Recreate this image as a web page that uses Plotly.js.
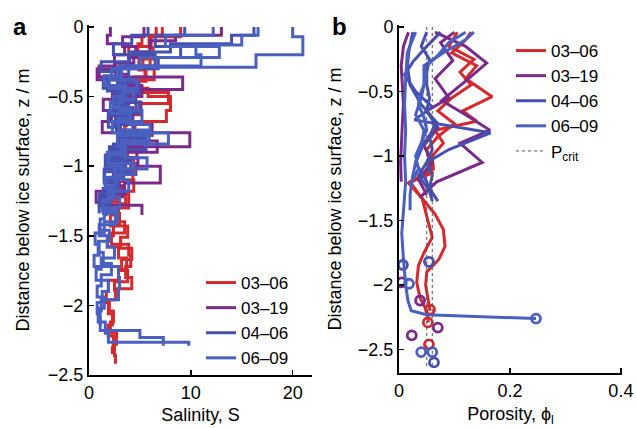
<!DOCTYPE html>
<html><head><meta charset="utf-8">
<script src="https://cdn.plot.ly/plotly-3.0.1.min.js"></script>
<style>html,body{margin:0;padding:0;background:#fff}#chart{width:636px;height:428px}</style>
</head><body><div id="chart"></div>
<script>
// ---------- Panel a: salinity step profiles (depth boundaries in m, salinity per interval) ----------
const seriesNames = ['03\u201306', '03\u201319', '04\u201306', '06\u201309'];
const seriesColors = ['#d42a2e', '#7b2a8a', '#4550b0', '#4a60c0'];

// 03-06
const salR1Depth = [0,-0.06,-0.12,-0.2,-0.28,-0.36,-0.44,-0.5,-0.6,-0.68,-0.76,-0.86,-0.94,-1.02,-1.1,-1.2,-1.3,-1.4,-1.48,-1.56,-1.64,-1.72,-1.8,-1.88,-1.96,-2.04,-2.12,-2.2,-2.28,-2.36,-2.42];
const salR1 = [6.6,5.2,4.8,6.0,5.5,4.6,5.8,8.0,7.6,4.5,5.2,3.8,4.4,3.4,3.0,3.9,2.8,3.5,2.2,3.9,4.1,3.6,4.2,2.6,2.0,2.4,2.1,2.7,2.5,2.6];
const salR2Depth = [0,-0.06,-0.14,-0.22,-0.3,-0.38,-0.46,-0.54,-0.62,-0.7,-0.78,-0.86,-0.94,-1.02,-1.1,-1.18,-1.26,-1.34,-1.42,-1.5,-1.58,-1.66,-1.74,-1.82,-1.9,-1.98,-2.06,-2.14,-2.22,-2.3,-2.35];
const salR2 = [7.2,6.1,3.9,5.3,6.4,4.2,3.6,4.9,3.3,4.5,5.1,3.5,2.6,3.2,4.4,2.7,2.2,3.0,2.4,1.8,2.9,3.7,2.9,1.9,1.7,1.9,2.3,1.9,2.4,2.3];
const salR3Depth = [0,-0.07,-0.15,-0.23,-0.31,-0.39,-0.47,-0.55,-0.63,-0.71,-0.79,-0.87,-0.95,-1.03,-1.11,-1.19,-1.27,-1.35,-1.43,-1.51,-1.59,-1.67,-1.75,-1.83,-1.9];
const salR3 = [9.0,5.9,6.3,4.9,5.6,4.4,7.8,5.0,3.7,3.5,4.0,2.9,3.3,4.3,2.5,3.6,2.9,2.1,3.8,3.1,4.2,3.2,3.8,2.5];
// 03-19
const salP1Depth = [0,-0.06,-0.12,-0.2,-0.28,-0.36,-0.45,-0.52,-0.6,-0.68,-0.76,-0.86,-0.94,-1.0,-1.12,-1.2,-1.28,-1.35];
const salP1 = [2.1,1.8,3.5,2.5,1.0,9.2,3.1,1.4,2.2,1.3,9.9,2.8,4.8,7.0,3.5,1.2,5.2];
const salP2Depth = [0,-0.07,-0.14,-0.22,-0.3,-0.38,-0.46,-0.54,-0.62,-0.7,-0.78,-0.86,-0.94,-1.02,-1.1,-1.18,-1.26,-1.33];
const salP2 = [5.4,3.3,4.6,3.9,0.8,3.4,2.3,5.1,4.0,6.2,3.6,4.7,2.1,3.0,1.6,0.7,1.9];
const salP3Depth = [0,-0.06,-0.1,-0.18,-0.26,-0.34,-0.42,-0.5,-0.58,-0.66,-0.74,-0.82,-0.9,-0.98,-1.06,-1.14,-1.22,-1.3];
const salP3 = [13.0,8.5,6.0,4.4,2.6,3.8,5.2,3.0,4.3,2.7,3.9,6.7,3.1,4.6,2.4,3.3,1.3];
// 04-06
const salB4Depth = [0,-0.06,-0.12,-0.18,-0.25,-0.32,-0.4,-0.48,-0.56,-0.64,-0.72,-0.8,-0.88,-0.96,-1.04,-1.12,-1.2,-1.28,-1.36];
const salB4 = [16.2,14.0,8.0,4.0,1.2,2.8,4.9,2.6,3.9,1.9,3.1,5.6,2.2,4.1,1.5,2.6,1.0,1.7];
const salB5Depth = [0,-0.06,-0.14,-0.22,-0.3,-0.38,-0.46,-0.54,-0.62,-0.7,-0.78,-0.86,-0.94,-1.02,-1.1,-1.18,-1.26,-1.34];
const salB5 = [9.4,6.5,9.0,6.8,3.9,1.8,3.4,5.0,2.6,4.3,3.0,2.0,3.6,1.5,2.9,1.8,1.0];
const salB6Depth = [0,-0.06,-0.12,-0.2,-0.28,-0.36,-0.44,-0.52,-0.6,-0.68,-0.76,-0.84,-0.92,-1.0,-1.08,-1.16,-1.24,-1.32];
const salB6 = [5.8,4.2,2.4,6.5,3.0,1.4,2.6,4.6,1.9,2.9,5.2,2.4,1.6,3.4,2.3,1.4,2.1];
// 06-09
const salB1Depth = [0,-0.07,-0.2,-0.29,-0.35,-0.42,-0.5,-0.58,-0.66,-0.74,-0.82,-0.9,-0.98,-1.06,-1.14,-1.22,-1.3,-1.38,-1.46,-1.54,-1.62,-1.7,-1.78,-1.86,-1.94,-2.02,-2.1,-2.18,-2.23,-2.29];
const salB1 = [20.0,21.0,16.4,2.8,1.5,3.6,2.4,4.1,2.9,5.9,3.2,1.8,4.5,2.6,1.9,3.0,1.5,1.1,2.0,0.9,1.4,2.2,1.2,0.8,1.5,1.0,1.1,5.0,7.3];
const salB2Depth = [0,-0.06,-0.13,-0.2,-0.28,-0.36,-0.44,-0.52,-0.6,-0.68,-0.76,-0.84,-0.92,-1.0,-1.08,-1.16,-1.24,-1.32,-1.4,-1.48,-1.56,-1.64,-1.72,-1.8,-1.88,-1.96,-2.04,-2.12,-2.2,-2.265,-2.29];
const salB2 = [16.6,15.0,10.5,11.0,3.2,2.0,4.4,3.0,5.2,2.3,7.8,3.5,2.0,3.2,1.6,2.4,1.3,2.8,1.5,0.6,1.0,0.5,2.9,3.0,2.9,1.2,0.9,1.6,1.9,9.8];
const salB3Depth = [0,-0.06,-0.14,-0.22,-0.3,-0.38,-0.46,-0.54,-0.62,-0.7,-0.78,-0.86,-0.94,-1.02,-1.1,-1.18,-1.26,-1.34,-1.42,-1.5,-1.58,-1.66,-1.74,-1.82,-1.9,-1.98,-2.06,-2.14];
const salB3 = [12.2,7.5,12.8,5.0,2.2,4.7,3.3,2.1,4.0,6.0,2.8,3.6,5.7,2.5,3.9,2.0,1.4,2.6,1.0,1.8,2.5,1.2,0.7,1.9,1.3,0.8,1.1];

// ---------- Panel b: porosity profiles ----------
// 03-06
const porR1Depth = [-0.04,-0.1,-0.2,-0.3,-0.4,-0.54,-0.65,-0.73,-0.8,-0.9,-1.0,-1.1,-1.2,-1.32,-1.45,-1.57,-1.7,-1.8,-1.9,-2.0,-2.1,-2.2];
const porR1 = [0.13,0.12,0.095,0.14,0.12,0.168,0.115,0.14,0.065,0.08,0.06,0.062,0.02,0.04,0.065,0.08,0.083,0.072,0.05,0.048,0.052,0.056];
const porR2Depth = [-0.04,-0.15,-0.25,-0.35,-0.45,-0.55,-0.65,-0.75,-0.85,-0.95,-1.05,-1.13,-1.21,-1.33,-1.5,-1.63,-1.75,-1.85,-1.98,-2.1,-2.2,-2.29];
const porR2 = [0.105,0.09,0.135,0.11,0.13,0.095,0.07,0.1,0.07,0.05,0.055,0.06,0.017,0.042,0.052,0.06,0.045,0.035,0.032,0.038,0.05,0.053];
const porRCircDepth = [-2.19,-2.29,-2.46];
const porRCirc = [0.056,0.052,0.054];
// 03-19
const porP1Depth = [-0.04,-0.15,-0.3,-0.45,-0.6,-0.75,-0.9,-1.05,-1.2];
const porP1 = [0.017,0.008,0.004,0.006,0.008,0.006,0.004,0.003,0.004];
const porP2Depth = [-0.04,-0.15,-0.28,-0.42,-0.57,-0.68,-0.8,-0.9,-1.05,-1.2,-1.32];
const porP2 = [0.065,0.12,0.158,0.12,0.077,0.12,0.164,0.11,0.15,0.068,0.038];
const porP3Depth = [-0.04,-0.12,-0.26,-0.4,-0.55,-0.65,-0.78,-0.92,-1.05,-1.18,-1.3];
const porP3 = [0.1,0.075,0.097,0.065,0.09,0.05,0.07,0.045,0.06,0.035,0.05];
const porPCircDepth = [-1.98,-2.12,-2.33,-2.39];
const porPCirc = [0.005,0.038,0.07,0.023];
// 04-06
const porB4Depth = [-0.04,-0.15,-0.25,-0.35,-0.45,-0.55,-0.65,-0.75,-0.85,-0.95,-1.05,-1.15,-1.25,-1.35];
const porB4 = [0.05,0.04,0.055,0.05,0.05,0.055,0.05,0.065,0.055,0.06,0.05,0.06,0.055,0.07];
const porB5Depth = [-0.04,-0.15,-0.27,-0.37,-0.5,-0.62,-0.72,-0.82,-0.95,-1.05,-1.15,-1.3];
const porB5 = [0.075,0.05,0.025,0.01,0.03,0.06,0.028,0.165,0.09,0.05,0.035,0.06];
const porB6Depth = [-0.04,-0.18,-0.3,-0.45,-0.6,-0.75,-0.9,-1.05,-1.2,-1.35];
const porB6 = [0.025,0.018,0.015,0.02,0.04,0.07,0.045,0.03,0.05,0.06];
const porB4CircDepth = [-1.845,-1.82,-2.6];
const porB4Circ = [0.007,0.054,0.063];
// 06-09
const porB1Depth = [-0.04,-0.2,-0.4,-0.6,-0.8,-1.0,-1.2,-1.4,-1.6,-1.8,-2.0,-2.12,-2.2,-2.23,-2.26];
const porB1 = [0.03,0.015,0.012,0.01,0.012,0.01,0.012,0.008,0.005,0.008,0.012,0.016,0.022,0.05,0.247];
const porB2Depth = [-0.04,-0.12,-0.22,-0.32,-0.45,-0.55,-0.68,-0.8,-0.92,-1.05,-1.15,-1.3,-1.42];
const porB2 = [0.12,0.09,0.07,0.045,0.045,0.04,0.03,0.045,0.04,0.03,0.025,0.02,0.02];
const porB3Depth = [-0.04,-0.1,-0.2,-0.3,-0.4,-0.5,-0.6,-0.7,-0.8,-0.9,-1.0,-1.1,-1.22];
const porB3 = [0.135,0.12,0.08,0.045,0.05,0.04,0.035,0.045,0.05,0.04,0.03,0.035,0.02];
const porB1CircDepth = [-2.26,-1.99,-2.52,-2.52];
const porB1Circ = [0.247,0.018,0.04,0.06];

// critical porosity band (dotted lines)
const pcritValues = [0.05, 0.06];
const pcritDepth = [0, -2.65];

// ---------- build traces ----------
const FONT = 'Liberation Sans, Arial, Helvetica, sans-serif';
const LW = 3;
const traces = [];
function stairs(depth, vals, s, first) {
  traces.push({
    type: 'scatter', mode: 'lines', xaxis: 'x', yaxis: 'y',
    x: vals.concat([vals[vals.length - 1]]), y: depth,
    line: {color: seriesColors[s], width: LW, shape: 'vh'},
    name: seriesNames[s], legend: 'legend',
    showlegend: first, hoverinfo: 'skip'
  });
}
function prof(depth, vals, s, first) {
  traces.push({
    type: 'scatter', mode: 'lines', xaxis: 'x2', yaxis: 'y2',
    x: vals, y: depth,
    line: {color: seriesColors[s], width: LW},
    name: seriesNames[s], legend: 'legend2',
    showlegend: first, hoverinfo: 'skip'
  });
}
function circ(depth, vals, s) {
  traces.push({
    type: 'scatter', mode: 'markers', xaxis: 'x2', yaxis: 'y2',
    x: vals, y: depth,
    marker: {symbol: 'circle-open', size: 9, color: seriesColors[s], line: {width: 2.8, color: seriesColors[s]}},
    legend: 'legend2', showlegend: false, hoverinfo: 'skip'
  });
}
stairs(salR1Depth, salR1, 0, true); stairs(salR2Depth, salR2, 0, false); stairs(salR3Depth, salR3, 0, false);
stairs(salP1Depth, salP1, 1, true); stairs(salP2Depth, salP2, 1, false); stairs(salP3Depth, salP3, 1, false);
stairs(salB4Depth, salB4, 2, true); stairs(salB5Depth, salB5, 2, false); stairs(salB6Depth, salB6, 2, false);
stairs(salB1Depth, salB1, 3, true); stairs(salB2Depth, salB2, 3, false); stairs(salB3Depth, salB3, 3, false);

prof(porR1Depth, porR1, 0, true); prof(porR2Depth, porR2, 0, false); circ(porRCircDepth, porRCirc, 0);
prof(porP1Depth, porP1, 1, true); prof(porP2Depth, porP2, 1, false); prof(porP3Depth, porP3, 1, false); circ(porPCircDepth, porPCirc, 1);
prof(porB4Depth, porB4, 2, true); prof(porB5Depth, porB5, 2, false); prof(porB6Depth, porB6, 2, false); circ(porB4CircDepth, porB4Circ, 2);
prof(porB1Depth, porB1, 3, true); prof(porB2Depth, porB2, 3, false); prof(porB3Depth, porB3, 3, false); circ(porB1CircDepth, porB1Circ, 3);

pcritValues.forEach((p, i) => {
  traces.push({
    type: 'scatter', mode: 'lines', xaxis: 'x2', yaxis: 'y2',
    x: [p, p], y: pcritDepth,
    line: {color: '#555', width: 1, dash: 'dot'},
    name: 'P<sub>crit</sub>', legend: 'legend2',
    showlegend: i === 0, hoverinfo: 'skip'
  });
});

const axisCommon = {
  showline: true, linecolor: '#000', linewidth: 2, ticks: 'inside', ticklen: 5, tickwidth: 1.5,
  tickcolor: '#000', showgrid: false, zeroline: false, mirror: false,
  tickfont: {family: FONT, size: 18, color: '#000'}
};
const layout = {
  width: 636, height: 428,
  margin: {l: 0, r: 0, t: 25, b: 53},
  paper_bgcolor: '#fff', plot_bgcolor: '#fff',
  font: {family: FONT, size: 18, color: '#000'},
  xaxis: Object.assign({}, axisCommon, {
    domain: [89/636, 312/636], range: [0, 21.9], tickvals: [0, 10, 20], anchor: 'y',
    title: {text: 'Salinity, S', font: {family: FONT, size: 18}, standoff: 7}
  }),
  yaxis: Object.assign({}, axisCommon, {
    domain: [0, 1], range: [-2.5, 0.014], tickvals: [0, -0.5, -1, -1.5, -2, -2.5], anchor: 'x',
    title: {text: 'Distance below ice surface, z / m', font: {family: FONT, size: 18}, standoff: 14}
  }),
  xaxis2: Object.assign({}, axisCommon, {
    domain: [399/636, 622/636], range: [0, 0.402], tickvals: [0, 0.2, 0.4], anchor: 'y2',
    title: {text: 'Porosity, \u03d5<sub>l</sub>', font: {family: FONT, size: 18}, standoff: 8}
  }),
  yaxis2: Object.assign({}, axisCommon, {
    domain: [2/350, 1], range: [-2.682, 0.0155], tickvals: [0, -0.5, -1, -1.5, -2, -2.5], anchor: 'x2',
    title: {text: 'Distance below ice surface, z / m', font: {family: FONT, size: 18}, standoff: 12}
  }),
  legend: {
    x: 201/636, y: (375 - 265)/350, xanchor: 'left', yanchor: 'top',
    bgcolor: 'rgba(0,0,0,0)', font: {family: FONT, size: 17}, traceorder: 'normal', itemwidth: 30
  },
  legend2: {
    x: 511/636, y: (375 - 33)/350, xanchor: 'left', yanchor: 'top',
    bgcolor: 'rgba(0,0,0,0)', font: {family: FONT, size: 17}, traceorder: 'normal', itemwidth: 30
  },
  annotations: [
    {text: '<b>a</b>', xref: 'paper', yref: 'paper', x: 20/636, y: (375 - 27)/350, xanchor: 'center', yanchor: 'middle', showarrow: false, font: {family: FONT, size: 24}},
    {text: '<b>b</b>', xref: 'paper', yref: 'paper', x: 339/636, y: (375 - 27)/350, xanchor: 'center', yanchor: 'middle', showarrow: false, font: {family: FONT, size: 24}}
  ],
  showlegend: true
};
Plotly.newPlot('chart', traces, layout, {staticPlot: true, displayModeBar: false});
</script>
</body></html>
